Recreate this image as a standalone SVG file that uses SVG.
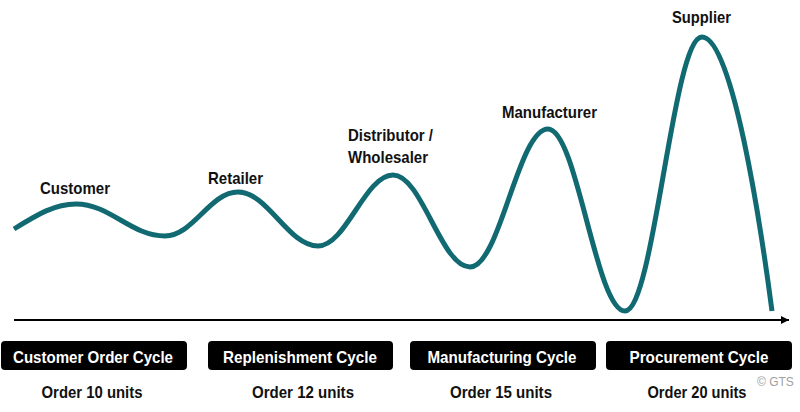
<svg xmlns="http://www.w3.org/2000/svg" width="800" height="412" viewBox="0 0 800 412">
<style>
.lbl{font-family:"Liberation Sans Narrow","Liberation Sans",Arial,sans-serif;font-weight:bold;font-size:17px;fill:#111}
.box{fill:#000}
.bt{font-family:"Liberation Sans Narrow","Liberation Sans",Arial,sans-serif;font-weight:bold;font-size:17px;fill:#fff;text-anchor:middle}
.ord{font-family:"Liberation Sans Narrow","Liberation Sans",Arial,sans-serif;font-weight:bold;font-size:16.5px;fill:#111;text-anchor:middle}
.wave{fill:none;stroke:#116a72;stroke-width:5;stroke-linecap:butt}
</style>
<defs>
<marker id="ah" viewBox="0 0 10 10" refX="10" refY="5" markerWidth="5" markerHeight="4" orient="auto" markerUnits="strokeWidth">
<path d="M0,0 L10,5 L0,10 Z" fill="#000"/>
</marker>
</defs>
<rect width="800" height="412" fill="#fff"/>
<g id="connectors">
<line x1="14" y1="320" x2="789" y2="320" stroke="#000" stroke-width="2" marker-end="url(#ah)"/>
<path class="wave" d="M14,229 C38,214 55,204 76,204 C110,204 131,236 165,236 C193,236 210,192 238,192 C268,192 288,246 318,246 C346,246 365,175 393,175 C422,175 441,267 470,267 C500,267 518,129 548,129 C577,129 596,311 625,311 C654,311 673,37 702,37 C732,37 760,220 772,311"/>
</g>
<g id="customer"><text class="lbl" x="75" y="194" text-anchor="middle" textLength="70" lengthAdjust="spacingAndGlyphs">Customer</text></g>
<g id="retailer"><text class="lbl" x="235.5" y="184" text-anchor="middle" textLength="55" lengthAdjust="spacingAndGlyphs">Retailer</text></g>
<g id="distributor"><text class="lbl" x="348" y="141" textLength="85" lengthAdjust="spacingAndGlyphs">Distributor /</text><text class="lbl" x="348" y="163" textLength="80" lengthAdjust="spacingAndGlyphs">Wholesaler</text></g>
<g id="manufacturer"><text class="lbl" x="549.5" y="118" text-anchor="middle" textLength="95" lengthAdjust="spacingAndGlyphs">Manufacturer</text></g>
<g id="supplier"><text class="lbl" x="701.5" y="23" text-anchor="middle" textLength="59" lengthAdjust="spacingAndGlyphs">Supplier</text></g>
<g id="cycle1">
<rect class="box" x="1" y="341" width="186" height="29" rx="4"/>
<text class="bt" x="93" y="363" textLength="160" lengthAdjust="spacingAndGlyphs">Customer Order Cycle</text>
<text class="ord" x="92" y="398" textLength="101" lengthAdjust="spacingAndGlyphs">Order 10 units</text>
</g>
<g id="cycle2">
<rect class="box" x="208" y="341" width="185" height="29" rx="4"/>
<text class="bt" x="300" y="363" textLength="154" lengthAdjust="spacingAndGlyphs">Replenishment Cycle</text>
<text class="ord" x="303" y="398" textLength="102" lengthAdjust="spacingAndGlyphs">Order 12 units</text>
</g>
<g id="cycle3">
<rect class="box" x="410" y="341" width="186" height="29" rx="4"/>
<text class="bt" x="502" y="363" textLength="149" lengthAdjust="spacingAndGlyphs">Manufacturing Cycle</text>
<text class="ord" x="501" y="398" textLength="102" lengthAdjust="spacingAndGlyphs">Order 15 units</text>
</g>
<g id="cycle4">
<rect class="box" x="606" y="341" width="186" height="29" rx="4"/>
<text class="bt" x="699" y="363" textLength="139" lengthAdjust="spacingAndGlyphs">Procurement Cycle</text>
<text class="ord" x="697" y="398" textLength="99" lengthAdjust="spacingAndGlyphs">Order 20 units</text>
</g>
<g id="copyright"><text x="757" y="386" font-family="Liberation Sans,Arial,sans-serif" font-size="12" fill="#a0a0a0">© GTS</text></g>
</svg>
